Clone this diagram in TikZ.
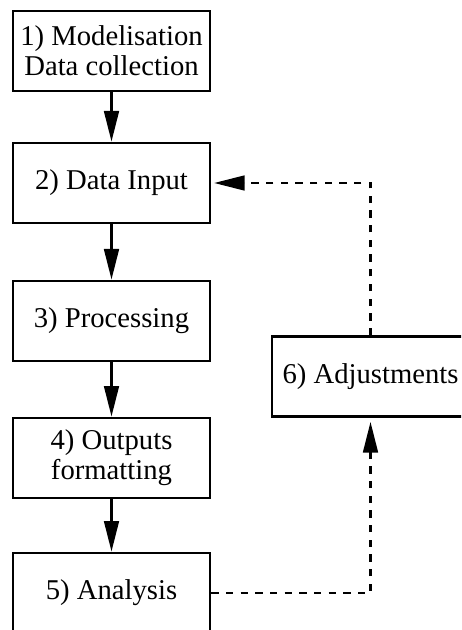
\documentclass[tikz,border=0pt]{standalone}
\usepackage{fontspec}
\setmainfont{Liberation Serif}
\usetikzlibrary{arrows.meta}
\tikzset{%
    Dbox/.style={draw, line width=2pt, minimum width=147.75pt, minimum height=60pt,
        inner sep=2pt, align=center, font=\fontsize{21.5}{22.5}\selectfont},
    Dline/.style={line width=2pt, -{Triangle[length=23pt,width=11pt]}},
    Ddash/.style={line width=2pt, dash pattern=on 5.5pt off 5.5pt,
        -{Triangle[length=23pt,width=11pt]}}
}
\begin{document}
\begin{tikzpicture}[x=0.75pt,y=-0.75pt]
        \useasboundingbox (0,0) rectangle (461,630);
        \clip (0,0) rectangle (461,630);
        \path
            (111.5,51)  node [Dbox] (Nmod)  {1) Modelisation\\Data collection}
            (111.5,183) node [Dbox] (Ninp)  {2) Data Input}
            (111.5,321) node [Dbox] (Nproc) {3) Processing}
            (111.5,458) node [Dbox] (Nout)  {4) Outputs\\formatting}
            (111.5,593) node [Dbox] (Nana)  {5) Analysis}
            (370.5,376.5) node [Dbox] (Nadj)  {6) Adjustments};

        % main chain
        \foreach \cA/\cB in {Nmod/Ninp, Ninp/Nproc, Nproc/Nout, Nout/Nana}
            \draw [Dline] (\cA) -- (\cB);

        % feedback loop
        \draw [Ddash,shorten >=3pt] (Nana.east) -| (Nadj.south);
        \draw [Ddash,shorten >=2pt] (Nadj.north) |- (Ninp.east);
    \end{tikzpicture}
\end{document}
